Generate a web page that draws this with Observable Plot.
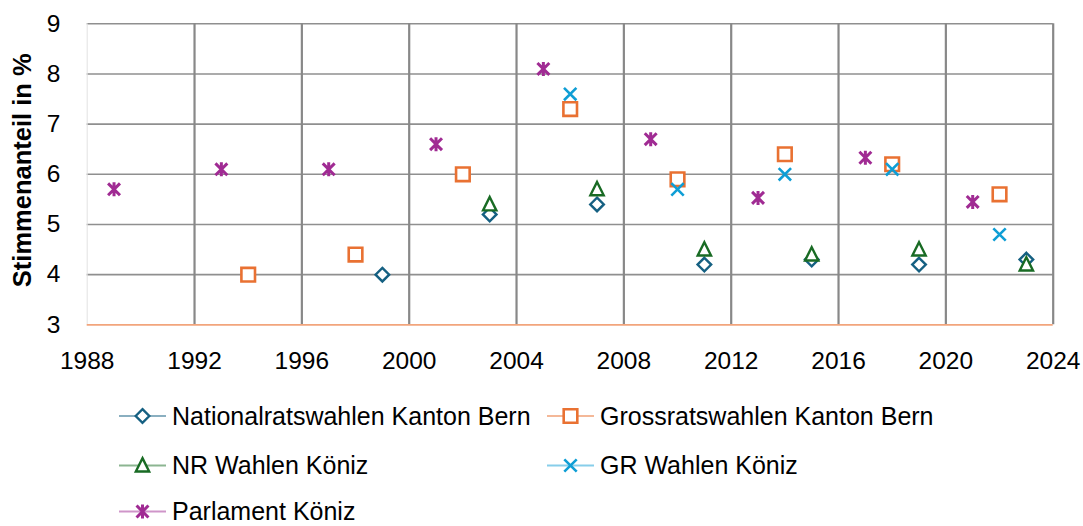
<!DOCTYPE html>
<html>
<head>
<meta charset="utf-8">
<script src="https://cdn.jsdelivr.net/npm/d3@7"></script>
<script src="https://cdn.jsdelivr.net/npm/@observablehq/plot@0.6"></script>
<style>
  html, body { margin: 0; padding: 0; background: #fff; }
  #wrap { position: relative; width: 1083px; height: 526px; overflow: hidden; font-family: "Liberation Sans", Arial, sans-serif; }
  #legend { position: absolute; left: 0; top: 0; width: 1083px; height: 526px; pointer-events: none; }
</style>
</head>
<body>
<div id="wrap"><div id="chart"></div><svg id="legend"></svg></div>
<script>
// ---- Data ----
const seriesNames = [
  "Nationalratswahlen Kanton Bern",
  "Grossratswahlen Kanton Bern",
  "NR Wahlen Köniz",
  "GR Wahlen Köniz",
  "Parlament Köniz"
];
const yearsNationalratBern = [1999, 2003, 2007, 2011, 2015, 2019, 2023];
const valuesNationalratBern = [4.0, 5.2, 5.4, 4.2, 4.3, 4.2, 4.3];
const yearsGrossratBern = [1994, 1998, 2002, 2006, 2010, 2014, 2018, 2022];
const valuesGrossratBern = [4.0, 4.4, 6.0, 7.3, 5.9, 6.4, 6.2, 5.6];
const yearsNRKoeniz = [2003, 2007, 2011, 2015, 2019, 2023];
const valuesNRKoeniz = [5.4, 5.7, 4.5, 4.4, 4.5, 4.2];
const yearsGRKoeniz = [2006, 2010, 2014, 2018, 2022];
const valuesGRKoeniz = [7.6, 5.7, 6.0, 6.1, 4.8];
const yearsParlament = [1989, 1993, 1997, 2001, 2005, 2009, 2013, 2017, 2021];
const valuesParlament = [5.7, 6.1, 6.1, 6.6, 8.1, 6.7, 5.53, 6.33, 5.45];
const xTicks = [1988, 1992, 1996, 2000, 2004, 2008, 2012, 2016, 2020, 2024];
const yTicks = [3, 4, 5, 6, 7, 8, 9];
const yTitle = "Stimmenanteil in %";

// ---- Styles ----
const colors = ["#156082", "#E97132", "#196B24", "#0F9ED5", "#A02B93"];
const mk = (fn) => ({ draw(ctx, size) { const r = Math.sqrt(size / Math.PI); fn(ctx, r); } });
const symDiamond = mk((c, r) => { c.moveTo(0, -r); c.lineTo(r, 0); c.lineTo(0, r); c.lineTo(-r, 0); c.closePath(); });
const symSquare = mk((c, r) => { c.moveTo(-r, -r); c.lineTo(r, -r); c.lineTo(r, r); c.lineTo(-r, r); c.closePath(); });
const symTriangle = mk((c, r) => { c.moveTo(0, -r * 1.05); c.lineTo(r * 0.95, r * 0.85); c.lineTo(-r * 0.95, r * 0.85); c.closePath(); });
const symTimes = mk((c, r) => { c.moveTo(-r, -r); c.lineTo(r, r); c.moveTo(-r, r); c.lineTo(r, -r); });
const symStar = mk((c, r) => { c.moveTo(-r * 0.85, -r * 0.85); c.lineTo(r * 0.85, r * 0.85); c.moveTo(-r * 0.85, r * 0.85); c.lineTo(r * 0.85, -r * 0.85); c.moveTo(0, -r); c.lineTo(0, r); });
const symbols = [symDiamond, symSquare, symTriangle, symTimes, symStar];
const radii = [6.8, 6.8, 7.0, 6.2, 7.0];
const fills = ["white", "white", "white", "none", "none"];
const strokeWidths = [2.4, 2.6, 2.4, 2.6, 3.0];

const seriesData = [
  [yearsNationalratBern, valuesNationalratBern],
  [yearsGrossratBern, valuesGrossratBern],
  [yearsNRKoeniz, valuesNRKoeniz],
  [yearsGRKoeniz, valuesGRKoeniz],
  [yearsParlament, valuesParlament]
].map(([xs, ys]) => xs.map((x, i) => ({ year: x, value: ys[i] })));

const W = 1083, H = 385;
const chart = Plot.plot({
  width: W,
  height: H,
  marginLeft: 86.7,
  marginRight: 30.3,
  marginTop: 23.3,
  marginBottom: H - 324.3,
  style: { fontFamily: "'Liberation Sans', Arial, sans-serif", fontSize: "24px", background: "white", color: "#000" },
  x: { domain: [1988, 2024], ticks: xTicks, tickFormat: d => String(d) },
  y: { domain: [3, 9], ticks: yTicks, tickFormat: d => String(d) },
  marks: [
    Plot.ruleY(yTicks.slice(1), { stroke: "#8f8f8f", strokeWidth: 1.6 }),
    Plot.ruleX([1988], { stroke: "#e2e2e2", strokeWidth: 1 }),
    Plot.ruleX(xTicks.slice(1), { stroke: "#888888", strokeWidth: 2.2 }),
    Plot.ruleY([3], { stroke: "#F2A57C", strokeWidth: 1.8 }),
    Plot.axisX({ ticks: xTicks, tickSize: 0, tickPadding: 27, label: null, tickFormat: d => String(d), fontSize: 24.5 }),
    Plot.axisY({ ticks: yTicks, tickSize: 0, tickPadding: 26.7, label: null, tickFormat: d => String(d), fontSize: 24.5 }),
    Plot.text([yTitle], { frameAnchor: "left", textAnchor: "middle", lineAnchor: "middle", dx: -64.5, dy: -4, rotate: -90, fontWeight: "bold", fontSize: 25.5, fill: "#000" }),
    ...seriesData.map((data, i) => Plot.dot(data, {
      x: "year", y: "value", symbol: symbols[i], r: radii[i],
      stroke: colors[i], fill: fills[i], strokeWidth: strokeWidths[i]
    }))
  ]
});
document.getElementById("chart").appendChild(chart);

// ---- Legend ----
const legend = d3.select("#legend");
const cols = [119, 547];
const rowsY = [416, 465.5, 511.5];
seriesNames.forEach((name, i) => {
  const col = i % 2, row = Math.floor(i / 2);
  const x0 = cols[col], cy = rowsY[row];
  const g = legend.append("g");
  g.append("line").attr("x1", x0).attr("x2", x0 + 47).attr("y1", cy).attr("y2", cy)
    .attr("stroke", colors[i]).attr("stroke-opacity", 0.5).attr("stroke-width", 2);
  const r = radii[i];
  g.append("path").attr("transform", `translate(${x0 + 23.5},${cy})`)
    .attr("d", d3.symbol(symbols[i], Math.PI * r * r)())
    .attr("fill", fills[i]).attr("stroke", colors[i]).attr("stroke-width", strokeWidths[i]);
  g.append("text").attr("x", x0 + 53).attr("y", cy).attr("dy", "0.35em")
    .attr("font-family", "'Liberation Sans', Arial, sans-serif").attr("font-size", 25)
    .attr("fill", "#000").text(name);
});
</script>
</body>
</html>
